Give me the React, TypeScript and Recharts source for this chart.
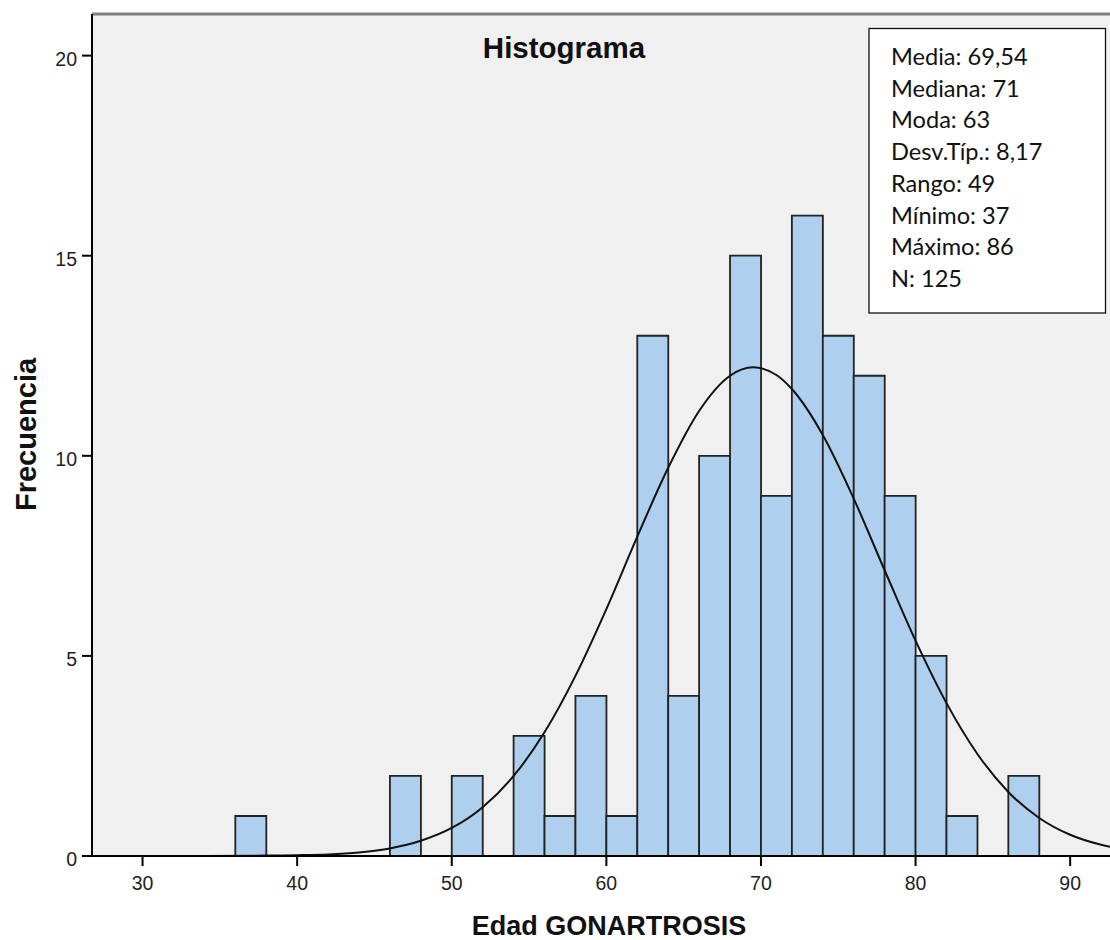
// @ts-nocheck
import React from 'react';
import {
  ComposedChart,
  Bar,
  Line,
  XAxis,
  YAxis,
  CartesianGrid,
  ReferenceLine,
} from 'recharts';

// histogram bins (width 2), centre of each bin and its frequency
const binCenters = [37, 39, 41, 43, 45, 47, 49, 51, 53, 55, 57, 59, 61, 63, 65, 67, 69, 71, 73, 75, 77, 79, 81, 83, 85, 87];
const binCounts = [1, 0, 0, 0, 0, 2, 0, 2, 0, 3, 1, 4, 1, 13, 4, 10, 15, 9, 16, 13, 12, 9, 5, 1, 0, 2];

// normal curve
const curveX = [26.7, 34, 38, 40, 42, 44, 46, 48, 50, 52, 54, 56, 58, 60, 62, 64, 66, 68, 69.5, 71, 72, 74, 76, 78, 80, 82, 84, 86, 88, 90, 92, 94];
const curveY = [0, 0, 0.01, 0.02, 0.04, 0.09, 0.19, 0.38, 0.7, 1.22, 2.0, 3.09, 4.5, 6.17, 7.98, 9.7, 11.12, 12.0, 12.21, 12.02, 11.67, 10.52, 8.93, 7.14, 5.38, 3.82, 2.55, 1.6, 0.95, 0.53, 0.28, 0.14];

const xTicks = [30, 40, 50, 60, 70, 80, 90];
const yTicks = [0, 5, 10, 15, 20];

const statLines = [
  'Media: 69,54',
  'Mediana: 71',
  'Moda: 63',
  'Desv.Típ.: 8,17',
  'Rango: 49',
  'Mínimo: 37',
  'Máximo: 86',
  'N: 125',
];

const X_DOMAIN = [26.73, 94];
const Y_MAX = 21.04;

const binData = binCenters.map((x, i) => ({ x, count: binCounts[i] }));
const curveData = curveX.map((x, i) => ({ x, y: curveY[i] }));

const SANS = '"Liberation Sans", Arial, sans-serif';
const AXIS_FONT = { fontSize: 19.5, fill: '#1e1e1e', fontFamily: SANS };

export default function App() {
  return (
    <div style={{ position: 'fixed', left: 0, top: 0, width: 1110, height: 940, overflow: 'hidden', background: '#fff' }}>
      <ComposedChart
        width={1142}
        height={940}
        data={binData}
        margin={{ top: 14, right: 10, bottom: 24, left: 32 }}
        barCategoryGap={0}
        barGap={0}
      >
        <CartesianGrid xAxisId="bins" horizontal={false} vertical={false} fill="#f0f0f0" />
        <XAxis
          xAxisId="bins"
          type="number"
          dataKey="x"
          domain={X_DOMAIN}
          allowDataOverflow
          ticks={xTicks}
          height={60}
          tick={AXIS_FONT}
          tickSize={10}
          tickMargin={10}
          axisLine={{ stroke: '#000', strokeWidth: 2 }}
          tickLine={{ stroke: '#000', strokeWidth: 2 }}
        />
        <XAxis xAxisId="curve" type="number" dataKey="x" domain={X_DOMAIN} allowDataOverflow hide />
        <YAxis
          type="number"
          domain={[0, Y_MAX]}
          allowDataOverflow
          ticks={yTicks}
          width={60}
          tick={{ ...AXIS_FONT, dy: 3 }}
          tickSize={10}
          tickMargin={5}
          axisLine={{ stroke: '#000', strokeWidth: 2 }}
          tickLine={{ stroke: '#000', strokeWidth: 2 }}
        />
        <ReferenceLine xAxisId="bins" y={Y_MAX} stroke="#7f7f7f" strokeWidth={3} />
        <Bar
          xAxisId="bins"
          dataKey="count"
          fill="#aed0ee"
          stroke="#222"
          strokeWidth={1.8}
          isAnimationActive={false}
        />
        <Line
          xAxisId="curve"
          data={curveData}
          dataKey="y"
          type="monotone"
          stroke="#111"
          strokeWidth={2}
          dot={false}
          activeDot={false}
          isAnimationActive={false}
        />
      </ComposedChart>

      {/* titles and the stats box */}
      <svg width={1110} height={940} style={{ position: 'absolute', left: 0, top: 0, pointerEvents: 'none' }}>
        <text x={564} y={58} textAnchor="middle" fontFamily={SANS} fontWeight="bold" fontSize={29.5} fill="#111">
          Histograma
        </text>
        <text
          transform="translate(35.5, 434.5) rotate(-90)"
          textAnchor="middle"
          fontFamily={SANS}
          fontWeight="bold"
          fontSize={29}
          fill="#111"
        >
          Frecuencia
        </text>
        <text x={609} y={934.5} textAnchor="middle" fontFamily={SANS} fontWeight="bold" fontSize={27} fill="#111">
          Edad GONARTROSIS
        </text>
        <rect x={869} y={28.5} width={236.5} height={284.5} fill="#fff" stroke="#111" strokeWidth={1.3} />
        {statLines.map((s, i) => (
          <text key={s} x={891} y={65 + i * 31.7} fontFamily="Lato, sans-serif" fontSize={23.6} fill="#111">
            {s}
          </text>
        ))}
      </svg>
    </div>
  );
}
